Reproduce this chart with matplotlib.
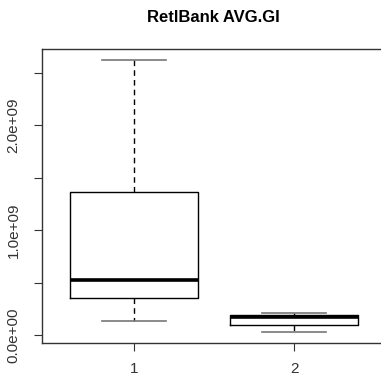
import matplotlib
matplotlib.use("Agg")
import matplotlib.pyplot as plt

title = "RetlBank AVG.GI"
groups = ["1", "2"]
whislo = [0.133e9, 0.027e9]
q1 = [0.35e9, 0.095e9]
med = [0.524e9, 0.175e9]
q3 = [1.365e9, 0.19e9]
whishi = [2.619e9, 0.207e9]
yticks = [0, 0.5e9, 1.0e9, 1.5e9, 2.0e9, 2.5e9]
ytick_labels = ["0.0e+00", "", "1.0e+09", "", "2.0e+09", ""]

plt.rcParams['font.family'] = ['Liberation Sans', 'DejaVu Sans']

W, H = 381, 378
fig = plt.figure(figsize=(W / 100, H / 100), dpi=100)
left, right, top, bottom = 41.5, 387.0, 49.0, 343.0
ax = fig.add_axes([left / W, 1 - bottom / H, (right - left) / W, (bottom - top) / H])

stats = []
for i, g in enumerate(groups):
    stats.append(dict(label=g, whislo=whislo[i], q1=q1[i], med=med[i], q3=q3[i],
                      whishi=whishi[i], fliers=[]))

ax.bxp(stats, positions=[1, 2], widths=0.8, showfliers=False,
       boxprops=dict(color='black', linewidth=1.0),
       medianprops=dict(color='black', linewidth=2.6, solid_capstyle='butt'),
       whiskerprops=dict(color='black', linewidth=1.0, linestyle=(0, (4, 3))),
       capprops=dict(color='#777777', linewidth=1.2),
       capwidths=0.4)

ax.set_xlim(0.42, 2.58)
ax.set_ylim(-0.0756e9, 2.724e9)
ax.set_xticks([1, 2])
ax.set_xticklabels(groups)
ax.set_yticks(yticks)
ax.set_yticklabels(ytick_labels, rotation=90, va='center')
for s in ax.spines.values():
    s.set_color('#333333')
    s.set_linewidth(1.0)
ax.tick_params(axis='both', length=6, width=0.8, color='#333333', labelsize=11,
               labelcolor='#333333')
ax.tick_params(axis='y', pad=9)
ax.tick_params(axis='x', pad=8)

fig.text(213.5 / W, 1 - 17.5 / H, title, ha='center', va='center',
         fontsize=12, fontweight='bold')

fig.savefig("out.png", dpi=100)
